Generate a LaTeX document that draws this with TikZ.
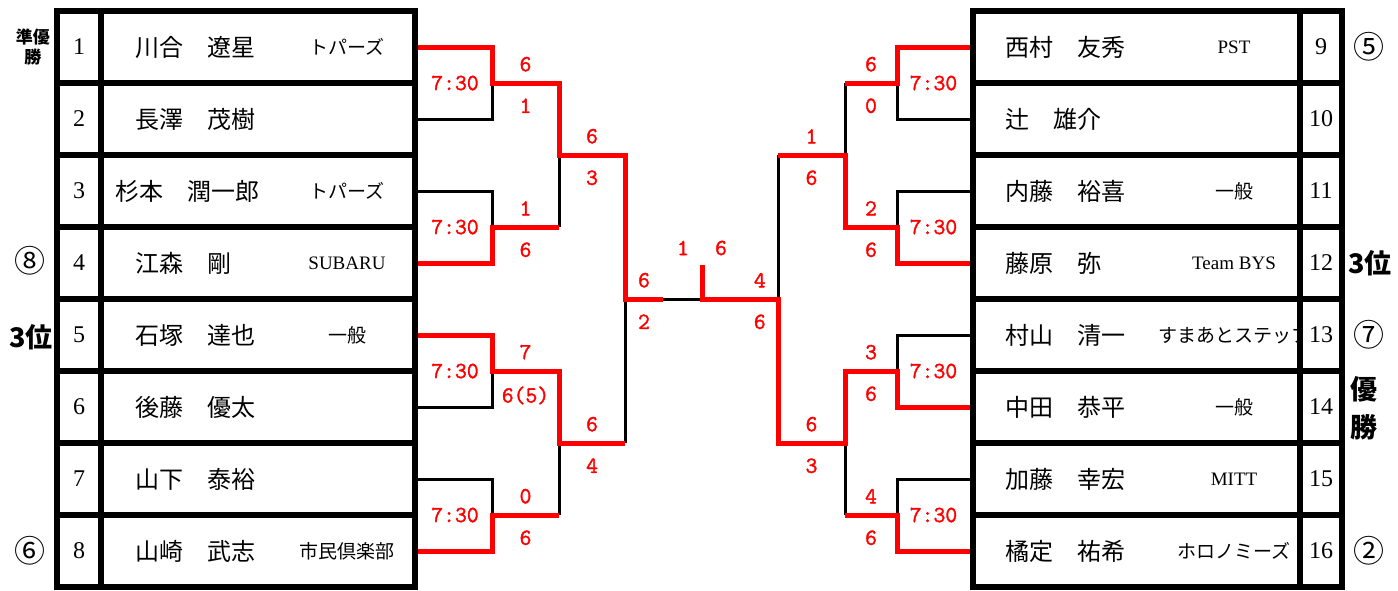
\documentclass[tikz,border=0pt]{standalone}
\usepackage{fontspec}
\setmainfont{Liberation Serif}
\newfontfamily\jp{Noto Sans CJK JP}
\newfontfamily\scorefont{Latin Modern Mono}[FakeBold=1.6]
\usepackage{tikz}
\usetikzlibrary{calc}
\colorlet{cWin}{red}

\begin{document}
\begin{tikzpicture}[
  x=1pt, y=-1pt,
  cell/.style={draw=black, line width=6pt, inner sep=0pt,
               minimum height=72pt},
  namecell/.style={cell, minimum width=314pt},
  rnamecell/.style={cell, minimum width=327pt},
  numcell/.style={cell, minimum width=44pt,
                  font=\fontsize{24}{28}\selectfont},
  pname/.style={font=\jp\fontsize{24}{28}\selectfont, anchor=west,
                inner sep=0pt},
  pteam/.style={font=\fontsize{19}{22}\selectfont, inner sep=0pt},
  rankmark/.style={font=\jp\bfseries\fontsize{27}{38}\selectfont,
                   inner sep=0pt, align=center},
  ringmark/.style={rankmark, font=\jp\fontsize{31}{34}\selectfont},
  lose/.style={draw=black, line width=3pt},
  win/.style={draw=cWin, line width=5pt},
  score/.style={font=\scorefont\fontsize{23}{26}\selectfont,
                text=cWin, inner sep=0pt},
]
\useasboundingbox (0,0) rectangle (1398,590);

% =========================================================================
% Geometry: 8 rows of 72pt per side, row centres 47 + 72k (y runs down).
% Left table 57 | 101 | 415, right table 973 | 1300 | 1342.
% =========================================================================

% ---- left table ---------------------------------------------------------
\foreach \n/\nm/\dx/\tm [count=\k from 0] in {
  1/{川合　遼星}/37/{\jp トパーズ},
  2/{長澤　茂樹}/37/{},
  3/{杉本　潤一郎}/17/{\jp トパーズ},
  4/{江森　剛}/37/{SUBARU},
  5/{石塚　達也}/37/{\jp 一般},
  6/{後藤　優太}/37/{},
  7/{山下　泰裕}/37/{},
  8/{山崎　武志}/37/{\jp 市民倶楽部}}{
  \node[numcell] (n\n) at (79,47+72*\k) {\n};
  \node[namecell] (p\n) at (258,47+72*\k) {};
  \node[pname] at ([xshift=\dx pt]p\n.west) {\nm};
  \node[pteam] at ([xshift=89pt]p\n.center) {\tm};
}

% ---- right table (team names clipped at the number column) --------------
\foreach \n/\nm/\tm [count=\k from 0] in {
  9/{西村　友秀}/{PST},
  10/{辻　雄介}/{},
  11/{内藤　裕喜}/{\jp 一般},
  12/{藤原　弥}/{Team BYS},
  13/{村山　清一}/{\jp すまあとステップ},
  14/{中田　恭平}/{\jp 一般},
  15/{加藤　幸宏}/{MITT},
  16/{橘定　祐希}/{\jp ホロノミーズ}}{
  \node[rnamecell] (p\n) at (1136.5,47+72*\k) {};
  \node[numcell, minimum width=42pt] (n\n) at (1321,47+72*\k) {\n};
  \node[pname] at ([xshift=35pt]p\n.west) {\nm};
  \begin{scope}
    \clip (p\n.north west) rectangle ([xshift=-6pt]p\n.south east);
    \node[pteam] at ([xshift=97.5pt]p\n.center) {\tm};
  \end{scope}
}

% =========================================================================
% Bracket junctions
% =========================================================================
\coordinate (m1) at (492,83);  \coordinate (m2) at (492,227);
\coordinate (m3) at (492,371); \coordinate (m4) at (492,515);
\coordinate (q1) at (559,155); \coordinate (q2) at (559,443);
\coordinate (s1) at (625,299);
\coordinate (fl) at (663,299); \coordinate (fr) at (702,299);
\coordinate (ft) at (702,265);
\coordinate (s2) at (778,299);
\coordinate (q3) at (845,155); \coordinate (q4) at (845,443);
\coordinate (m5) at (897,83);  \coordinate (m6) at (897,227);
\coordinate (m7) at (897,371); \coordinate (m8) at (897,515);

% ---- losers first, in black ---------------------------------------------
\draw[lose] (p2.east) -| (m1);  \draw[lose] (p3.east) -| (m2);
\draw[lose] (p6.east) -| (m3);  \draw[lose] (p7.east) -| (m4);
\draw[lose] (m2 -| q1) -- (q1); \draw[lose] (m4 -| q2) -- (q2);
\draw[lose] (q2 -| s1) -- (s1);
\draw[lose] (fl) -- (fr);
\draw[lose] (p10.west) -| (m5); \draw[lose] (p11.west) -| (m6);
\draw[lose] (p13.west) -| (m7); \draw[lose] (p15.west) -| (m8);
\draw[lose] (m5 -| q3) -- (q3); \draw[lose] (m8 -| q4) -- (q4);
\draw[lose] (q3 -| s2) -- (s2);

% ---- winners on top, in red, with the set scores ------------------------
\draw[win] (p1.east) -| (m1)
  -- node[score, above=9pt] {6} node[score, below=13pt] {1} (m1 -| q1)
  -- (q1)
  -- node[score, above=9pt] {6} node[score, below=13pt] {3} (q1 -| s1)
  -- (s1)
  -- node[score, above=9pt] {6} node[score, below=13pt] {2} (fl);
\draw[win] (p4.east) -| (m2)
  -- node[score, above=9pt] {1} node[score, below=13pt] {6} (m2 -| q1);
\draw[win] (p5.east) -| (m3)
  -- node[score, above=9pt] {7} node[score, below=13pt] {6(5)} (m3 -| q2)
  -- (q2)
  -- node[score, above=9pt] {6} node[score, below=13pt] {4} (q2 -| s1);
\draw[win] (p8.east) -| (m4)
  -- node[score, above=9pt] {0} node[score, below=13pt] {6} (m4 -| q2);

\draw[win] (p9.west) -| (m5)
  -- node[score, above=9pt] {6} node[score, below=13pt] {0} (m5 -| q3);
\draw[win] (p12.west) -| (m6)
  -- node[score, above=9pt] {2} node[score, below=13pt] {6} (m6 -| q3)
  -- (q3)
  -- node[score, above=9pt] {1} node[score, below=13pt] {6} (q3 -| s2);
\draw[win] (p14.west) -| (m7)
  -- node[score, above=9pt] {3} node[score, below=13pt] {6} (m7 -| q4)
  -- (q4)
  -- node[score, above=9pt] {6} node[score, below=13pt] {3} (q4 -| s2)
  -- (s2)
  -- node[score, above=9pt, pos=0.24] {4}
     node[score, below=13pt, pos=0.24] {6} (fr)
  -- (ft);
\draw[win] (p16.west) -| (m8)
  -- node[score, above=9pt] {4} node[score, below=13pt] {6} (m8 -| q4);

% ---- final score and start times ----------------------------------------
\node[score] (fs1) at ($(ft)+(-19,-17)$) {1};
\node[score] (fs2) at ($(ft)+(19,-17)$) {6};
\foreach \p/\m in {1/m1, 4/m2, 5/m3, 8/m4}
  \node[score] (t\p) at ($(p\p.east |- \m)!0.5!(\m)$) {7:30};
\foreach \p/\m in {9/m5, 12/m6, 14/m7, 16/m8}
  \node[score] (t\p) at ($(p\p.west |- \m)!0.5!(\m)$) {7:30};

% =========================================================================
% Placings beside the tables
% =========================================================================
\node[rankmark, font=\jp\bfseries\fontsize{17}{20}\selectfont] (rk1)
  at (33,47) {準優\\勝};
\node[ringmark] (rk4) at (30,261) {⑧};
\node[rankmark] (rk5) at (31,337) {3位};
\node[ringmark] (rk8) at (30,551) {⑥};
\node[ringmark] (rk9)  at (1369,47)  {⑤};
\node[rankmark] (rk12) at (1370,263) {3位};
\node[ringmark] (rk13) at (1369,335) {⑦};
\node[rankmark] (rk14) at (1364,408) {優\\勝};
\node[ringmark] (rk16) at (1369,551) {②};

\end{tikzpicture}
\end{document}
